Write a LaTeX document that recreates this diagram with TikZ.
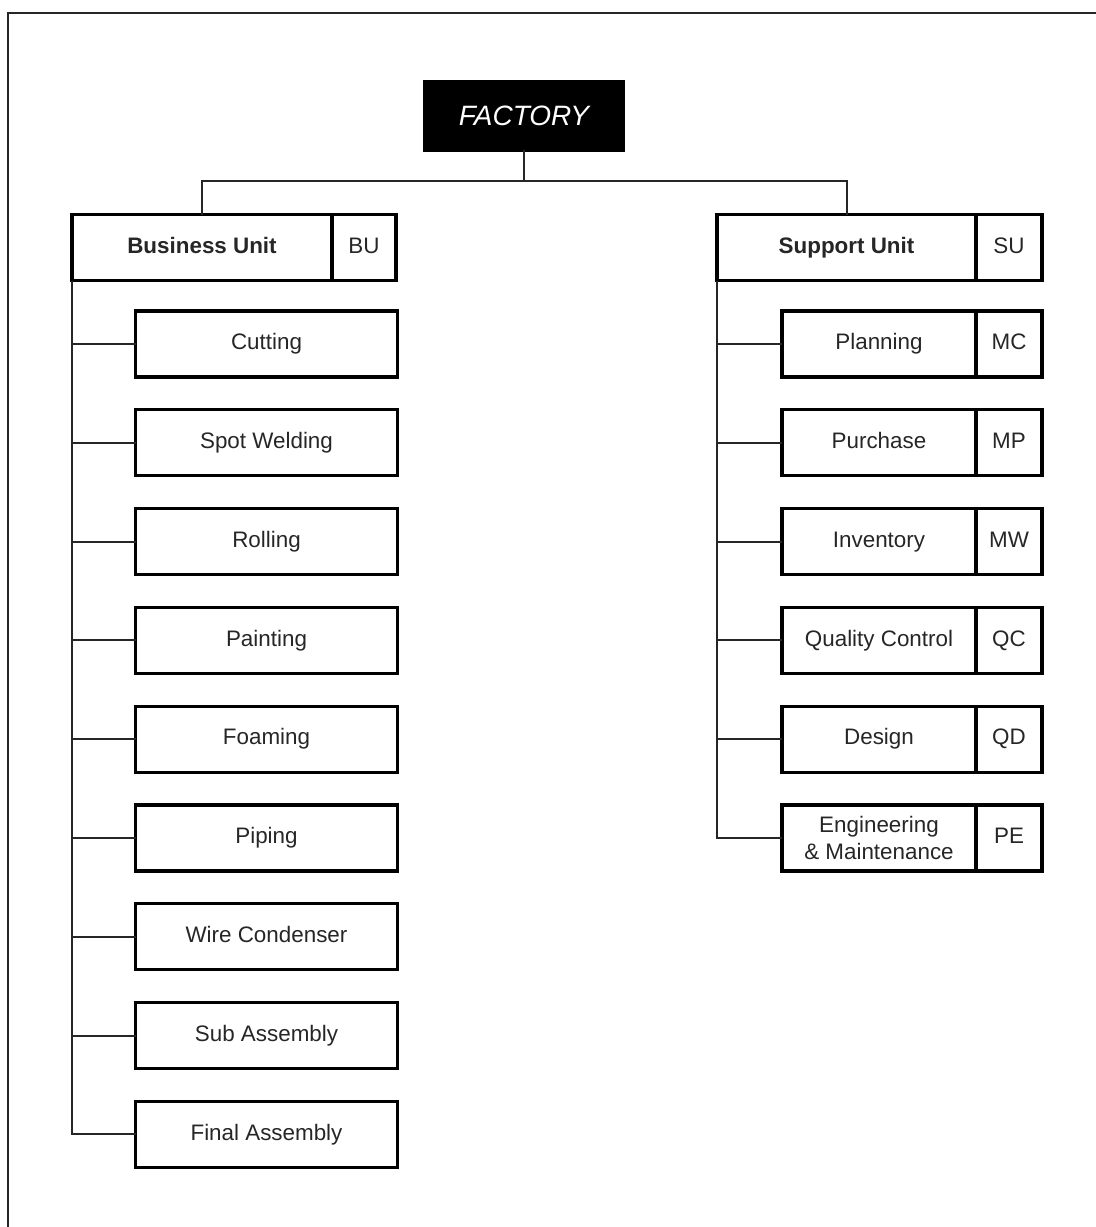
\documentclass[tikz,border=0pt]{standalone}
\usepackage{fontspec}
\setmainfont{Liberation Sans}
\begin{document}
\begin{tikzpicture}[x=0.5pt,y=-0.5pt,
  basebox/.style={draw=black,line width=1.6pt,rectangle,inner sep=0pt,outer sep=0pt,align=center,
    font=\fontsize{11.2}{12.6}\selectfont,text=black!85},
  box/.style={basebox,text height=8.1pt,text depth=2.4pt},
  conn/.style={line width=1pt,draw=black!85},
  frame/.style={line width=1.1pt,draw=black!85}]
\useasboundingbox (0,0) rectangle (1096,1227);
\draw[frame] (1096,13) -- (8,13) -- (8,1227);

% top node
\node[basebox,fill=black,text=white,minimum width=99pt,minimum height=34pt,
  font=\fontsize{14}{16}\selectfont\itshape] (factory) at (524,116) {FACTORY};

% units
\node[box,minimum width=130pt,minimum height=33pt,font=\fontsize{11.2}{12.6}\selectfont\bfseries] (bu) at (202,247.5) {Business Unit};
\node[box,minimum width=32pt,minimum height=33pt,anchor=west] (bucode) at (bu.east) {BU};
\node[box,minimum width=129.5pt,minimum height=33pt,font=\fontsize{11.2}{12.6}\selectfont\bfseries] (su) at (846.5,247.5) {Support Unit};
\node[box,minimum width=33pt,minimum height=33pt,anchor=west] (sucode) at (su.east) {SU};

\coordinate (hub) at (524,181);
\draw[conn] (factory.south) -- (hub);
\draw[conn] (bu.north) |- (hub) -| (su.north);

% business unit children
\foreach \name/\txt [count=\i from 0] in {c1/Cutting,c2/Spot Welding,c3/Rolling,c4/Painting,c5/Foaming,c6/Piping,c7/Wire Condenser,c8/Sub Assembly,c9/Final Assembly}{
  \node[box,minimum width=131pt,minimum height=33pt] (\name) at (266.5,{344+98.8*\i}) {\txt};
  \draw[conn] (\name.west) -- (\name.west -| bu.south west);
}
\draw[conn] (bu.south west) |- (c9.west);

% support unit children
\foreach \name/\txt/\code [count=\i from 0] in {s1/Planning/MC,s2/Purchase/MP,s3/Inventory/MW,s4/Quality Control/QC,s5/Design/QD}{
  \node[box,minimum width=97pt,minimum height=33pt] (\name) at (879,{344+98.8*\i}) {\txt};
  \node[box,minimum width=33pt,minimum height=33pt,anchor=west] (\name code) at (\name.east) {\code};
  \draw[conn] (\name.west) -- (\name.west -| su.south west);
}
\node[basebox,minimum width=97pt,minimum height=33pt,font=\fontsize{11.2}{13.5}\selectfont] (s6) at (879,838) {Engineering\\\& Maintenance};
\node[box,minimum width=33pt,minimum height=33pt,anchor=west] (s6code) at (s6.east) {PE};
\draw[conn] (su.south west) |- (s6.west);
\end{tikzpicture}
\end{document}
